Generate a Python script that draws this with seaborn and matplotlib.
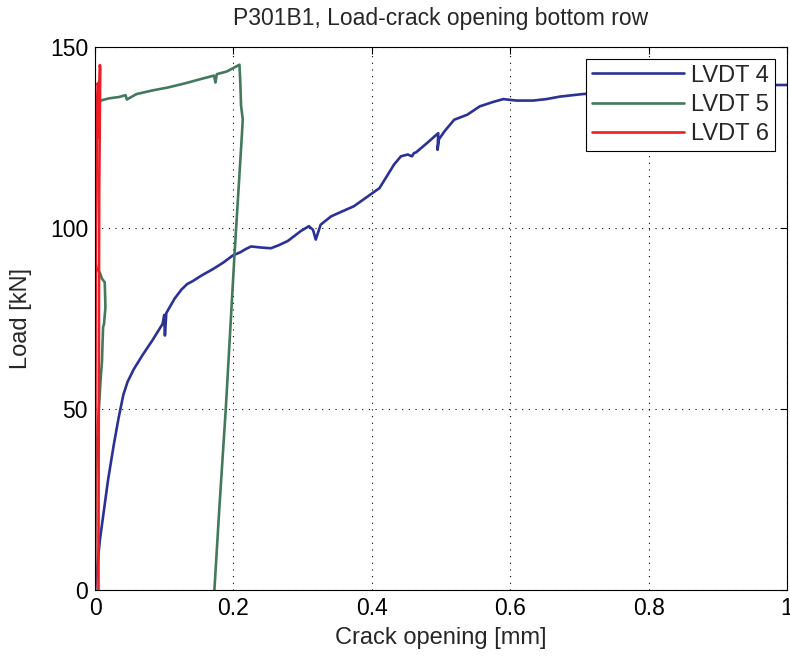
import pandas as pd
import matplotlib
matplotlib.use("Agg")
import matplotlib.pyplot as plt
import seaborn as sns

# values (crack opening in mm, load in kN)
lvdt4_x = [0.0, 0.003, 0.007, 0.0188, 0.027, 0.034, 0.041, 0.047, 0.056, 0.069, 0.083,
           0.0976, 0.1, 0.101, 0.103, 0.115, 0.125, 0.133, 0.141, 0.155, 0.170, 0.185,
           0.199, 0.210, 0.218, 0.2255, 0.24, 0.254, 0.265, 0.2785, 0.297, 0.309,
           0.315, 0.319, 0.326, 0.341, 0.355, 0.374, 0.394, 0.405, 0.411, 0.423,
           0.432, 0.442, 0.452, 0.458, 0.461, 0.464, 0.48, 0.496, 0.495, 0.497,
           0.505, 0.519, 0.538, 0.556, 0.575, 0.59, 0.609, 0.633, 0.652, 0.672,
           0.705, 0.75, 0.8, 0.9, 0.98, 1.0]
lvdt4_y = [0.0, 6.0, 13.8, 30.4, 40.0, 47.5, 54.0, 57.5, 61.0, 65.0, 69.0,
           73.5, 76.0, 70.3, 76.5, 80.5, 83.0, 84.5, 85.3, 87.0, 88.6, 90.4,
           92.4, 93.3, 94.2, 94.9, 94.6, 94.4, 95.2, 96.4, 99.1, 100.5,
           99.5, 96.8, 100.9, 103.2, 104.4, 106.0, 108.7, 110.2, 111.0, 114.7,
           117.5, 119.8, 120.3, 119.8, 120.7, 120.9, 123.5, 126.2, 121.6, 124.5,
           126.7, 129.9, 131.3, 133.6, 134.8, 135.6, 135.2, 135.2, 135.6, 136.3,
           137.0, 137.5, 138.0, 138.7, 139.5, 139.5]

lvdt5_x = [0.0, 0.001, 0.004, 0.008, 0.010, 0.0116, 0.013, 0.015, 0.0145, 0.014,
           0.010, 0.007, 0.002, 0.0, 0.002, 0.003, 0.004, 0.008, 0.02, 0.035,
           0.044, 0.046, 0.06, 0.083, 0.105, 0.131, 0.15, 0.172, 0.174, 0.176,
           0.19, 0.199, 0.2087, 0.210, 0.211, 0.2135, 0.212, 0.2015, 0.189,
           0.180, 0.1725]
lvdt5_y = [0.0, 30.0, 45.0, 58.0, 63.0, 72.6, 73.5, 78.0, 82.0, 85.0,
           86.0, 87.6, 89.0, 91.0, 110.0, 125.0, 134.0, 135.2, 135.8, 136.2,
           136.7, 135.5, 137.0, 138.0, 138.8, 140.0, 141.0, 142.1, 140.2, 142.5,
           143.2, 144.1, 145.1, 140.0, 133.8, 130.0, 125.0, 92.5, 50.2,
           23.7, 0.0]

lvdt6_x = [0.0, 0.0005, 0.001, 0.0015, 0.002, 0.003, 0.004, 0.006, 0.005, 0.007,
           0.0075, 0.007, 0.006, 0.0055, 0.005, 0.005]
lvdt6_y = [0.0, 40.0, 90.0, 120.0, 130.0, 135.0, 140.0, 137.0, 125.0, 145.0,
           144.0, 132.0, 110.0, 60.0, 15.0, 0.0]

series_names = ["LVDT 4", "LVDT 5", "LVDT 6"]
series_colors = ["#2b3195", "#44795c", "#ee1d25"]

frames = []
for name, xs, ys in zip(series_names, [lvdt4_x, lvdt5_x, lvdt6_x], [lvdt4_y, lvdt5_y, lvdt6_y]):
    frames.append(pd.DataFrame({"opening": xs, "load": ys, "sensor": name}))
df = pd.concat(frames, ignore_index=True)

sns.set_style("white")
plt.rcParams["font.family"] = ["Liberation Sans", "DejaVu Sans"]
plt.rcParams["font.size"] = 16.5

fig = plt.figure(figsize=(7.9, 6.59), dpi=100)
ax = fig.add_axes([0.1203, 0.1047, 0.8759, 0.824])

sns.lineplot(data=df, x="opening", y="load", hue="sensor", palette=series_colors,
             sort=False, estimator=None, linewidth=1.9, ax=ax)

ax.set_xlim(0, 1)
ax.set_ylim(0, 150)
ax.set_xticks([0, 0.2, 0.4, 0.6, 0.8, 1.0])
ax.set_xticklabels(["0", "0.2", "0.4", "0.6", "0.8", "1"])
ax.set_yticks([0, 50, 100, 150])
ax.grid(True, linestyle=(0, (1, 5)), color="black", linewidth=0.8)
ax.tick_params(direction="in", length=5, width=0.8, top=True, right=True,
               labelsize=16.5, colors="black", pad=5)
for s in ax.spines.values():
    s.set_color("black")
    s.set_linewidth(0.8)

ax.set_title("P301B1, Load-crack opening bottom row", fontsize=16.5, pad=16)
ax.set_xlabel("Crack opening [mm]", fontsize=17)
ax.set_ylabel("Load [kN]", fontsize=17)
ax.xaxis.set_label_coords(0.5, -0.068)
ax.yaxis.set_label_coords(-0.091, 0.5)

leg = ax.legend(loc="upper right", fontsize=17, frameon=True, fancybox=False,
                edgecolor="black", framealpha=1, handlelength=3.9, handletextpad=0.3,
                borderaxespad=0.5, labelspacing=0.3, borderpad=0.25)
leg.get_frame().set_linewidth(0.8)

fig.savefig("out.png", dpi=100)
